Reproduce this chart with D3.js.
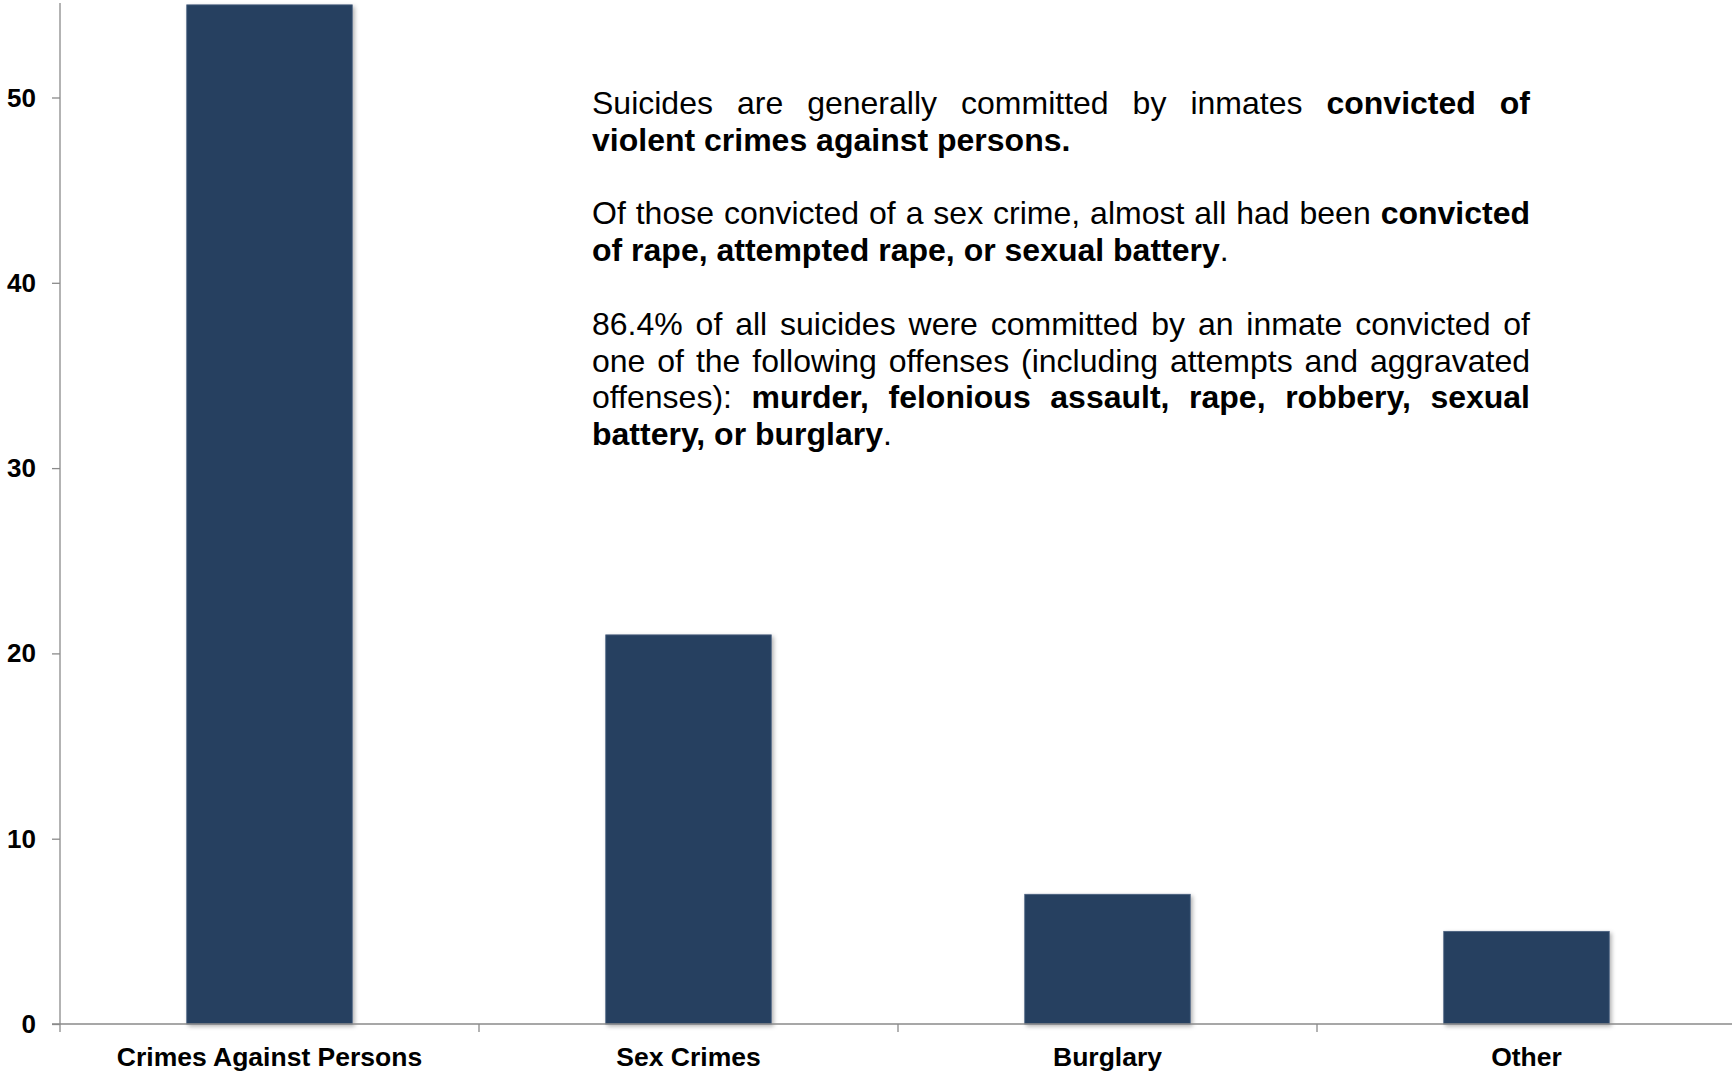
<!DOCTYPE html>
<html>
<head>
<meta charset="utf-8">
<script src="https://cdn.jsdelivr.net/npm/d3@7"></script>
<style>
  html, body { margin: 0; padding: 0; background: #ffffff; }
  #wrap { position: relative; width: 1732px; height: 1078px; overflow: hidden; }
  svg { position: absolute; left: 0; top: 0; }
  #note { position: absolute; left: 592px; top: 85px; width: 938px;
          font-family: Arial, "Liberation Sans", sans-serif; font-size: 32px;
          line-height: 36.8px; color: #000; }
  #note .j { text-align: justify; text-align-last: justify; white-space: nowrap; }
  #note .l { text-align: left; white-space: nowrap; }
  #note .gap { height: 36.8px; }
  #note b { font-weight: bold; }
</style>
</head>
<body>
<div id="wrap">
<svg id="chart" width="1732" height="1078"></svg>
<div id="note">
  <div class="j">Suicides are generally committed by inmates <b>convicted of</b></div>
  <div class="l"><b>violent crimes against persons.</b></div>
  <div class="gap"></div>
  <div class="j">Of those convicted of a sex crime, almost all had been <b>convicted</b></div>
  <div class="l"><b>of rape, attempted rape, or sexual battery</b>.</div>
  <div class="gap"></div>
  <div class="j">86.4% of all suicides were committed by an inmate convicted of</div>
  <div class="j">one of the following offenses (including attempts and aggravated</div>
  <div class="j">offenses): <b>murder, felonious assault, rape, robbery, sexual</b></div>
  <div class="l"><b>battery, or burglary</b>.</div>
</div>
</div>
<script>
const categories = ["Crimes Against Persons", "Sex Crimes", "Burglary", "Other"];
const values = [55, 21, 7, 5];
const yTicks = [0, 10, 20, 30, 40, 50];

const svg = d3.select("#chart");
const mLeft = 60, mRight = 1736, mTop = 3, mBottom = 1024;

const defs = svg.append("defs");
const f = defs.append("filter").attr("id", "sh").attr("x", "-10%").attr("y", "-10%").attr("width", "130%").attr("height", "130%");
f.append("feDropShadow").attr("dx", 2).attr("dy", 2).attr("stdDeviation", 2)
  .attr("flood-color", "#000").attr("flood-opacity", 0.3);

const x = d3.scaleBand().domain(categories).range([mLeft, mRight]).paddingInner(0.605).paddingOuter(0.3025);
const y = d3.scaleLinear().domain([0, 55.1]).range([mBottom, mTop]);

const axisColor = "#8a8a8a";

// bars
svg.append("g").selectAll("rect").data(values).join("rect")
  .attr("x", (d, i) => x(categories[i]))
  .attr("y", d => y(d))
  .attr("width", x.bandwidth())
  .attr("height", d => y(0) - y(d))
  .attr("fill", "#274060")
  .attr("stroke", "#4a6080")
  .attr("stroke-width", 0.8)
  .attr("filter", "url(#sh)");

// y axis
const yAxis = d3.axisLeft(y).tickValues(yTicks).tickSize(8).tickPadding(16).tickFormat(d3.format("d"));
const gy = svg.append("g").attr("transform", `translate(${mLeft},0)`).call(yAxis);
gy.select(".domain").remove();
gy.selectAll(".tick line").attr("stroke", axisColor).attr("stroke-width", 1.3);
gy.selectAll(".tick text").attr("fill", "#000").attr("font-family", "Arial, 'Liberation Sans', sans-serif")
  .attr("font-size", 26).attr("font-weight", "bold").attr("dy", "0.33em");
gy.append("line").attr("x1", 0).attr("x2", 0).attr("y1", mTop).attr("y2", mBottom + 8)
  .attr("stroke", axisColor).attr("stroke-width", 1.3);

// x axis
const gx = svg.append("g").attr("transform", `translate(0,${mBottom})`);
gx.append("line").attr("x1", mLeft - 8).attr("x2", mRight).attr("y1", 0).attr("y2", 0)
  .attr("stroke", axisColor).attr("stroke-width", 1.3);
const step = x.step();
const bounds = categories.slice(1).map(c => x(c) - x.paddingInner() * step / 2);
gx.selectAll("line.b").data(bounds).join("line").attr("class", "b")
  .attr("x1", d => d).attr("x2", d => d).attr("y1", 0).attr("y2", 8)
  .attr("stroke", axisColor).attr("stroke-width", 1.3);
gx.selectAll("text").data(categories).join("text")
  .attr("x", d => x(d) + x.bandwidth() / 2)
  .attr("y", 42)
  .attr("text-anchor", "middle")
  .attr("font-family", "Arial, 'Liberation Sans', sans-serif")
  .attr("font-size", 26.5).attr("font-weight", "bold").attr("fill", "#000")
  .text(d => d);
</script>
</body>
</html>
